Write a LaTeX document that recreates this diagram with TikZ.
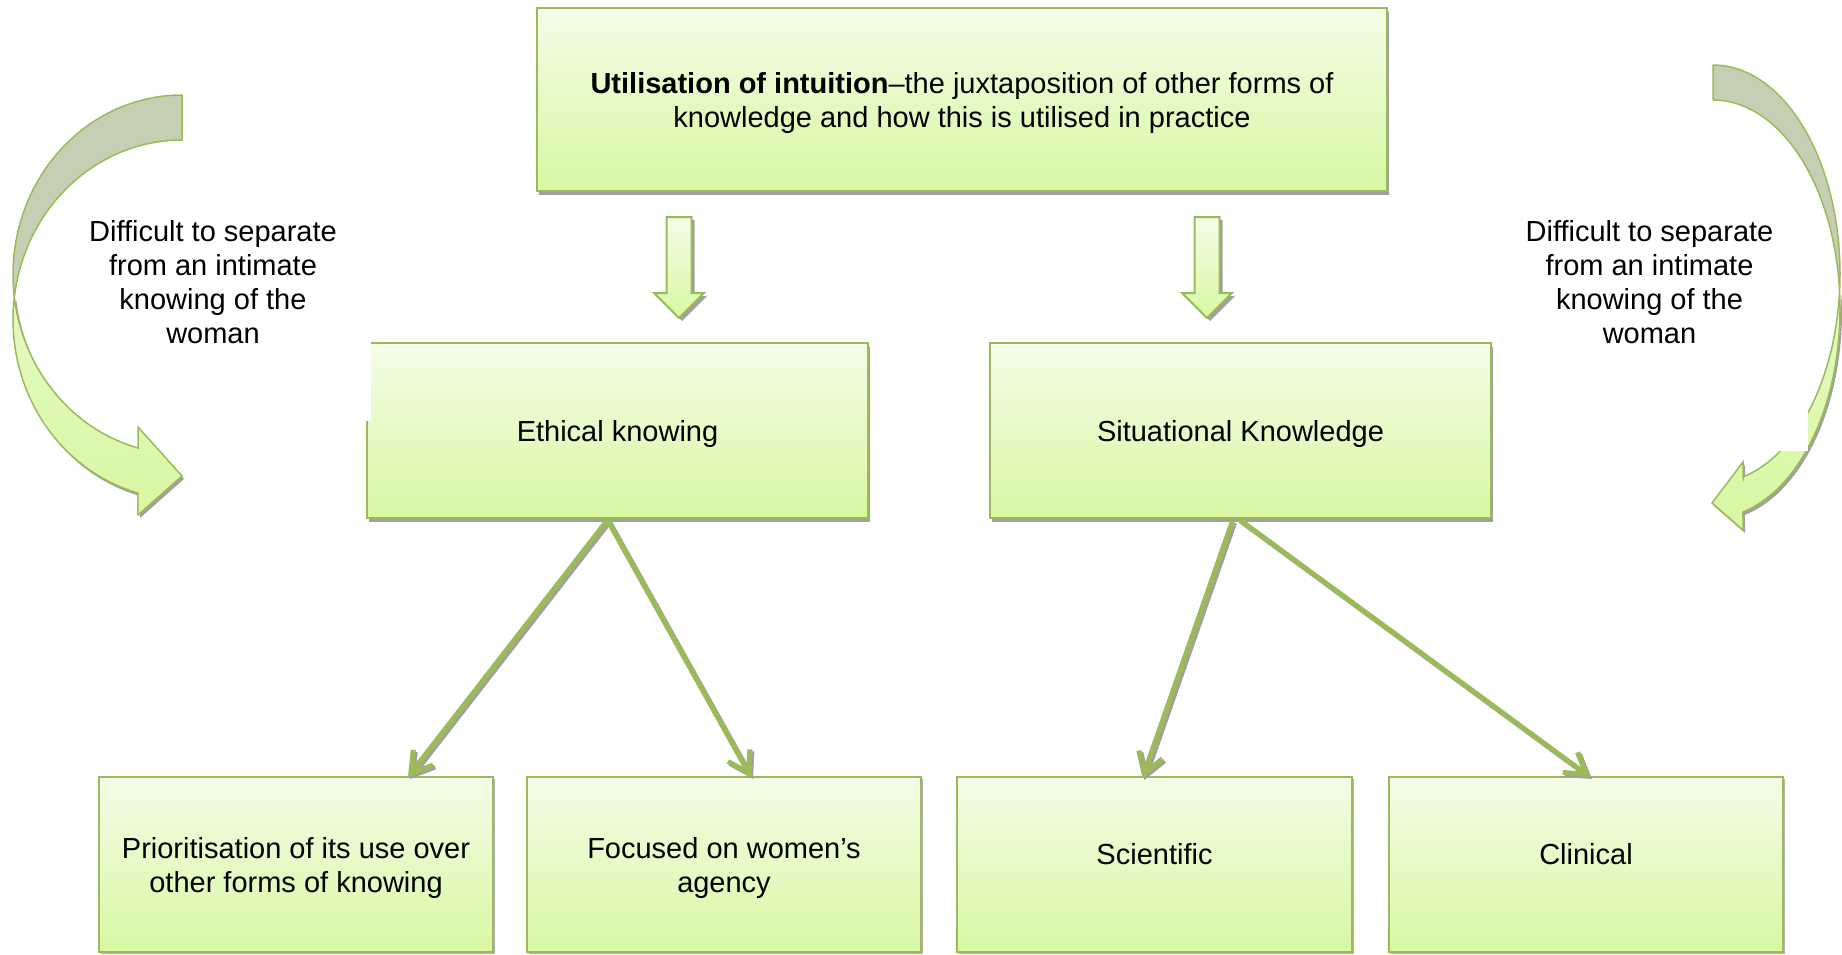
\documentclass[tikz,border=0pt]{standalone}
\usepackage{fontspec}
\setmainfont{Liberation Sans}
\usetikzlibrary{arrows.meta,shadows,calc}

\definecolor{accgreen}{HTML}{9BBB59}
\definecolor{fillTop}{HTML}{F3FDE8}
\definecolor{fillBot}{HTML}{D8F8A2}
\definecolor{frontTop}{HTML}{E4FAC4}
\definecolor{frontBot}{HTML}{D8F7A2}
\definecolor{backFace}{HTML}{C4CFB4}
\definecolor{shadowGray}{HTML}{A0A0A0}

\tikzset{
  txt/.style={align=center, inner sep=0pt, text=black, font=\fontsize{29}{34}\selectfont},
  box/.style={draw=accgreen, line width=2pt, inner sep=0pt, top color=fillTop, bottom color=fillBot},
  bigshadow/.style={drop shadow={shadow xshift=2pt, shadow yshift=-4pt, fill=shadowGray, opacity=1}},
  smallshadow/.style={drop shadow={shadow xshift=2pt, shadow yshift=-2pt, fill=shadowGray, opacity=0.8}},
  blockarrow/.style={draw=accgreen, line width=2pt, line join=miter, top color=fillTop, bottom color=fillBot,
    drop shadow={shadow xshift=3pt, shadow yshift=-3pt, fill=shadowGray, opacity=1}},
  link/.style={draw=accgreen, line width=5pt, -{Straight Barb[length=20pt,width=25pt]}},
  linkshadow/.style={draw=shadowGray, line width=5pt, -{Straight Barb[length=20pt,width=25pt]},
    transform canvas={xshift=2pt,yshift=-2pt}},
  backpart/.style={fill=backFace, draw=accgreen, line width=1.5pt, line join=round},
  frontpart/.style={top color=frontTop, bottom color=frontBot, draw=accgreen, line width=1.5pt, line join=miter},
  curveshadow/.style={fill=shadowGray, transform canvas={xshift=2pt,yshift=-3pt}}
}

% outlines of the two curved arrows (front faces)
\def\leftfront{plot[domain=187.2:105.1,samples=60] ({182+169*cos(\x)},{319.6+179.6*sin(\x)})
  -- (138,515) -- (182,476) -- (138,427) -- (138,448)
  -- plot[domain=105.1:172.8,samples=60] ({182+169*cos(\x)},{274.6+179.6*sin(\x)}) -- cycle}
\def\rightfront{plot[domain=-4.8:76.35,samples=60] ({1713+127*cos(\x)},{308.9+208.9*sin(\x)})
  -- (1743,530) -- (1712,503) -- (1743,462) -- (1743,477)
  -- plot[domain=76.35:4.8,samples=60] ({1713+127*cos(\x)},{273.9+208.9*sin(\x)}) -- cycle}

\begin{document}
\begin{tikzpicture}[x=1pt,y=-1pt]
\useasboundingbox (0,0) rectangle (1842,955);

% main heading box
\node[box,bigshadow,minimum width=850pt,minimum height=183pt] (top) at (962,99.5) {};
\node[txt] (topt) at (962,103)
  {\textbf{Utilisation of intuition}–the juxtaposition of other forms of\\knowledge and how this is utilised in practice};

% block arrows below the heading
\path[blockarrow] (666.5,217) -- (691.5,217) -- (691.5,293) -- (704,293) -- (679,318) -- (654,293) -- (666.5,293) -- cycle;
\path[blockarrow] (1194.5,217) -- (1219.5,217) -- (1219.5,293) -- (1232,293) -- (1207,318) -- (1182,293) -- (1194.5,293) -- cycle;

% second level
\node[box,bigshadow,minimum width=501pt,minimum height=175pt] (eth) at (617.5,430.5) {};
\node[txt] (etht) at (617.5,434) {Ethical knowing};
\node[box,bigshadow,minimum width=501pt,minimum height=175pt] (sit) at (1240.5,430.5) {};
\node[txt] (sitt) at (1240.5,434) {Situational Knowledge};

% third level
\node[box,smallshadow,minimum width=394pt,minimum height=175pt] (p1) at (296,864.5) {};
\node[txt] (p1t) at (296,868) {Prioritisation of its use over\\other forms of knowing};
\node[box,smallshadow,minimum width=394pt,minimum height=175pt] (p2) at (724,864.5) {};
\node[txt] (p2t) at (724,868) {Focused on women’s\\agency};
\node[box,smallshadow,minimum width=395pt,minimum height=175pt] (p3) at (1154.5,864.5) {};
\node[txt] (p3t) at (1154.5,854) {Scientific};
\node[box,smallshadow,minimum width=394pt,minimum height=175pt] (p4) at (1586,864.5) {};
\node[txt] (p4t) at (1586,854) {Clinical};

% left side note on its white panel
\fill[white] (50,195) rectangle (371,421);
\node[txt] (ltxt) at (213,282) {Difficult to separate\\from an intimate\\knowing of the\\woman};

% left curved arrow
\fill[curveshadow] \leftfront;
\path[backpart] plot[domain=270:172.8,samples=60] ({182+169*cos(\x)},{274.6+179.6*sin(\x)})
  -- plot[domain=187.2:270,samples=60] ({182+169*cos(\x)},{319.6+179.6*sin(\x)}) -- cycle;
\path[frontpart] \leftfront;

% right curved arrow
\fill[curveshadow] \rightfront;
\path[backpart] plot[domain=270:364.8,samples=60] ({1713+127*cos(\x)},{273.9+208.9*sin(\x)})
  -- plot[domain=355.2:270,samples=60] ({1713+127*cos(\x)},{308.9+208.9*sin(\x)}) -- cycle;
\path[frontpart] \rightfront;

% right side note on its white panel
\fill[white] (1493,195) rectangle (1808,451);
\node[txt] (rtxt) at (1649.5,282) {Difficult to separate\\from an intimate\\knowing of the\\woman};

% connectors
\draw[linkshadow] ($(eth.south)+(-10,1)$) -- ($(p1.north)+(112,1)$);
\draw[linkshadow] ($(eth.south)+(-10,1)$) -- ($(p2.north)+(27,1)$);
\draw[linkshadow] ($(sit.south)+(-8,2)$) -- ($(p3.north)+(-12,2)$);
\draw[linkshadow] ($(sit.south)+(-2,0)$) -- ($(p4.north)+(4,1)$);
\draw[link] ($(eth.south)+(-10,1)$) -- ($(p1.north)+(112,1)$);
\draw[link] ($(eth.south)+(-10,1)$) -- ($(p2.north)+(27,1)$);
\draw[link] ($(sit.south)+(-8,2)$) -- ($(p3.north)+(-12,2)$);
\draw[link] ($(sit.south)+(-2,0)$) -- ($(p4.north)+(4,1)$);
\end{tikzpicture}
\end{document}
